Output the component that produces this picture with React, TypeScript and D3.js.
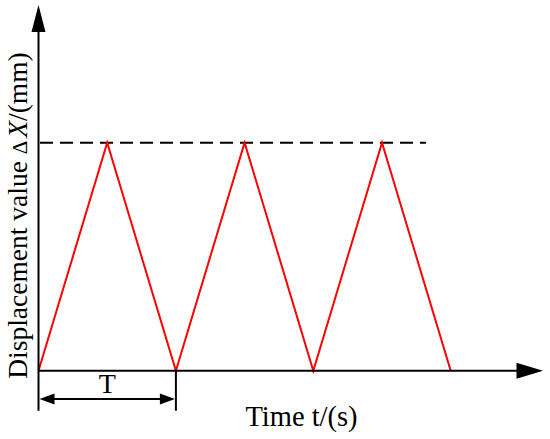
import { useRef, useEffect } from 'react';
import * as d3 from 'd3';

// time measured in periods T, displacement normalised to the peak value
const timeValues = [0, 0.5, 1, 1.5, 2, 2.5, 3];
const displacementValues = [0, 1, 0, 1, 0, 1, 0];
const peakLevel = 1;
const dashedEnd = 2.82;
const periodStart = 0;
const periodEnd = 1;

const xLabel = 'Time t/(s)';
const yLabelMain = 'Displacement value ';
const periodLabel = 'T';

export default function App() {
  const ref = useRef<SVGSVGElement | null>(null);

  useEffect(() => {
    if (!ref.current) return;
    const width = 550;
    const height = 439;
    const svg = d3.select(ref.current)
      .attr('width', width)
      .attr('height', height)
      .attr('viewBox', `0 0 ${width} ${height}`);
    svg.selectAll('*').remove();

    const font = '"Liberation Serif", "Times New Roman", serif';

    const x = d3.scaleLinear().domain([0, 3]).range([38.5, 450.7]);
    const y = d3.scaleLinear().domain([0, 1]).range([370.7, 142.7]);

    const x0 = x(0);
    const y0 = y(0);

    // dashed peak level
    svg.append('line')
      .attr('x1', x0).attr('x2', x(dashedEnd))
      .attr('y1', y(peakLevel)).attr('y2', y(peakLevel))
      .attr('stroke', '#000')
      .attr('stroke-width', 2)
      .attr('stroke-dasharray', '13,7')
      .attr('stroke-dashoffset', -1.5);

    // triangle wave
    const data = timeValues.map((t, i) => ({ t, v: displacementValues[i] }));
    const line = d3.line<{ t: number; v: number }>()
      .x(d => x(d.t))
      .y(d => y(d.v));
    svg.append('path')
      .datum(data)
      .attr('fill', 'none')
      .attr('stroke', '#ff0000')
      .attr('stroke-width', 2)
      .attr('stroke-linejoin', 'miter')
      .attr('d', line);

    // y axis (runs down to the period marker)
    svg.append('line')
      .attr('x1', x0).attr('x2', x0)
      .attr('y1', 410.7).attr('y2', 25)
      .attr('stroke', '#000').attr('stroke-width', 2);
    svg.append('path')
      .attr('d', `M${x0},5 L${x0 - 7},32 L${x0 + 7},32 Z`)
      .attr('fill', '#000');

    // x axis
    svg.append('line')
      .attr('x1', x0).attr('x2', 520)
      .attr('y1', y0).attr('y2', y0)
      .attr('stroke', '#000').attr('stroke-width', 2);
    svg.append('path')
      .attr('d', `M543,${y0} L516.5,${y0 - 8} L516.5,${y0 + 8} Z`)
      .attr('fill', '#000');

    // period marker
    const pL = x(periodStart);
    const pR = x(periodEnd);
    const pY = 399;
    svg.append('line')
      .attr('x1', pR).attr('x2', pR)
      .attr('y1', y0).attr('y2', 410.7)
      .attr('stroke', '#000').attr('stroke-width', 2);
    svg.append('line')
      .attr('x1', pL + 10).attr('x2', pR - 10)
      .attr('y1', pY).attr('y2', pY)
      .attr('stroke', '#000').attr('stroke-width', 2);
    svg.append('path')
      .attr('d', `M${pL + 1},${pY} L${pL + 16},${pY - 5.5} L${pL + 16},${pY + 5.5} Z`)
      .attr('fill', '#000');
    svg.append('path')
      .attr('d', `M${pR - 1},${pY} L${pR - 16},${pY - 5.5} L${pR - 16},${pY + 5.5} Z`)
      .attr('fill', '#000');
    svg.append('text')
      .attr('x', (pL + pR) / 2)
      .attr('y', 393)
      .attr('text-anchor', 'middle')
      .attr('font-family', font)
      .attr('font-size', 28)
      .text(periodLabel);

    // axis titles
    svg.append('text')
      .attr('x', 301.5)
      .attr('y', 426)
      .attr('text-anchor', 'middle')
      .attr('font-family', font)
      .attr('font-size', 28.5)
      .text(xLabel);

    const yt = svg.append('text')
      .attr('transform', 'translate(26.5,215.5) rotate(-90)')
      .attr('text-anchor', 'middle')
      .attr('font-family', font)
      .attr('font-size', 27.5);
    yt.append('tspan').text(yLabelMain);
    yt.append('tspan').attr('font-size', 21).text('\u0394');
    yt.append('tspan').attr('font-style', 'italic').attr('dx', 3).text('X');
    yt.append('tspan').text('/(mm)');
  }, []);

  return <svg ref={ref} style={{ position: 'absolute', left: 0, top: 0, display: 'block', background: '#fff' }}></svg>;
}
